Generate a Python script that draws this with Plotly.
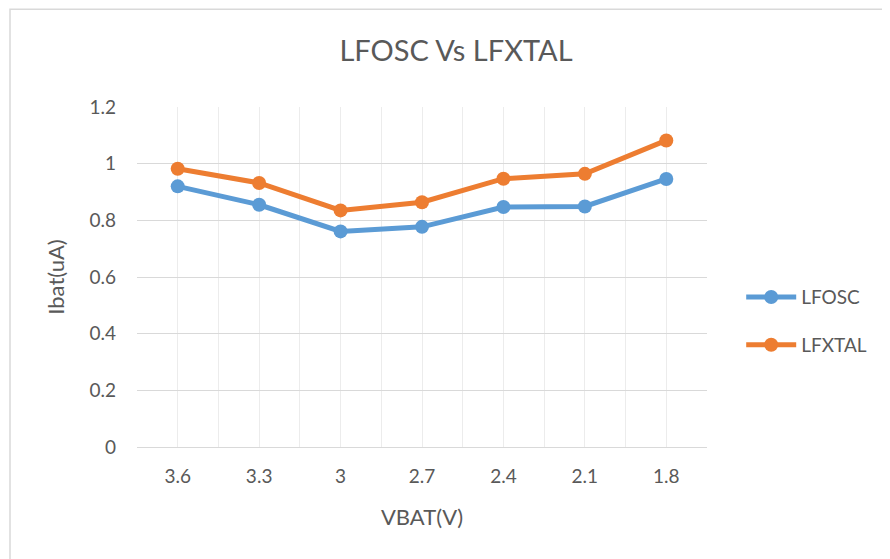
import plotly.graph_objects as go

categories = ["3.6", "3.3", "3", "2.7", "2.4", "2.1", "1.8"]
lfosc = [0.920, 0.855, 0.761, 0.777, 0.847, 0.849, 0.946]
lfxtal = [0.982, 0.932, 0.835, 0.864, 0.947, 0.964, 1.082]
y_ticks = [0, 0.2, 0.4, 0.6, 0.8, 1, 1.2]

idx = list(range(len(categories)))
FONT = "Lato, Open Sans, sans-serif"
TXT = "#595959"
OFF = 8  # page body margin

fig = go.Figure()
fig.add_trace(go.Scatter(x=idx, y=lfosc, name="LFOSC", mode="lines+markers",
                         line=dict(color="#5B9BD5", width=5),
                         marker=dict(size=14, color="#5B9BD5"), legendgroup="a"))
fig.add_trace(go.Scatter(x=idx, y=lfxtal, name="LFXTAL", mode="lines+markers",
                         line=dict(color="#ED7D31", width=5),
                         marker=dict(size=14, color="#ED7D31"), legendgroup="b"))

fig.update_layout(
    width=890, height=559,
    margin=dict(l=137 - OFF, r=183 + OFF, t=107 - OFF, b=111.5 + OFF),
    paper_bgcolor="white", plot_bgcolor="white",
    title=dict(text="LFOSC Vs LFXTAL", x=(456 - OFF) / 890, xanchor="center",
               y=1 - (51 - OFF) / 559, yanchor="middle",
               font=dict(family=FONT, size=29, color=TXT)),
    font=dict(family=FONT, color=TXT),
    legend=dict(x=1.06, y=0.37, xanchor="left", yanchor="middle",
                font=dict(family=FONT, size=19, color=TXT),
                traceorder="grouped", tracegroupgap=20, itemwidth=50,
                bgcolor="rgba(0,0,0,0)"),
    shapes=[dict(type="rect", xref="paper", yref="paper",
                 x0=(10 - 137) / 570, x1=(1000 - 137) / 570,
                 y0=(447.5 - 600) / 340.5, y1=(447.5 - 9) / 340.5,
                 line=dict(color="#d9d9d9", width=1.5), layer="below")],
)

fig.update_xaxes(
    range=[-0.5, len(categories) - 0.5],
    tickmode="array", tickvals=idx, ticktext=categories,
    showgrid=True, gridcolor="#ececec", gridwidth=1,
    minor=dict(tickvals=[i - 0.5 for i in idx] + [len(categories) - 0.5],
               showgrid=True, gridcolor="#ececec", gridwidth=1, ticks=""),
    showline=True, linecolor="#d9d9d9", linewidth=1,
    zeroline=False, ticks="", ticklabelstandoff=12,
    tickfont=dict(family=FONT, size=19, color=TXT),
    title=dict(text="VBAT(V)", font=dict(family=FONT, size=22, color=TXT), standoff=23),
)
fig.update_yaxes(
    range=[0, 1.2], tickmode="array", tickvals=y_ticks,
    ticktext=[str(v) for v in y_ticks],
    showgrid=True, gridcolor="#d9d9d9", gridwidth=1.3,
    zeroline=False, showline=False, ticks="",
    tickfont=dict(family=FONT, size=19, color=TXT), ticklabelstandoff=20,
    title=dict(text="Ibat(uA)", font=dict(family=FONT, size=22, color=TXT), standoff=18),
)

fig.write_html("out.html")
